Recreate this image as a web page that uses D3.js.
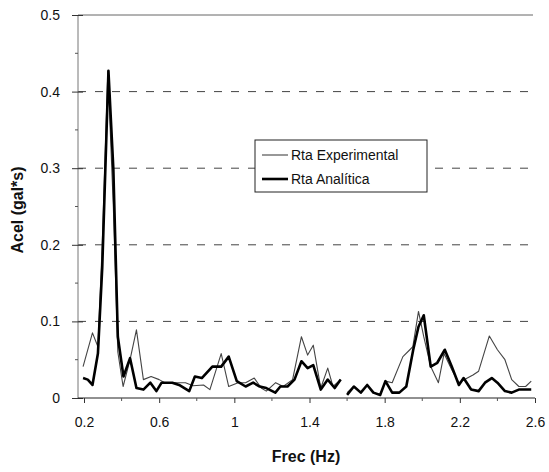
<!DOCTYPE html>
<html><head><meta charset="utf-8">
<script src="https://cdn.jsdelivr.net/npm/d3@7"></script>
<style>body{margin:0;background:#fff}svg text{font-family:Arial,"Liberation Sans",sans-serif}</style>
</head><body><svg id="c" width="549" height="472"></svg>
<script>
const xTicks = [0.2, 0.6, 1.0, 1.4, 1.8, 2.2, 2.6];
const xTickLabels = ["0.2", "0.6", "1", "1.4", "1.8", "2.2", "2.6"];
const yTicks = [0, 0.1, 0.2, 0.3, 0.4, 0.5];
const yTickLabels = ["0", "0.1", "0.2", "0.3", "0.4", "0.5"];
const seriesNames = ["Rta Experimental", "Rta Analítica"];

const freqExp = [0.195,0.245,0.274,0.297,0.327,0.356,0.38,0.408,0.445,0.479,0.516,0.557,0.6,0.63,0.67,0.706,0.74,0.78,0.836,0.87,0.93,0.97,1.02,1.06,1.106,1.143,1.17,1.22,1.26,1.31,1.357,1.39,1.42,1.46,1.497,1.525,1.566,1.58,1.6,1.636,1.673,1.707,1.74,1.776,1.804,1.84,1.897,1.934,1.95,1.98,2.008,2.045,2.086,2.116,2.157,2.195,2.24,2.27,2.3,2.357,2.4,2.44,2.476,2.514,2.55,2.58];
const accExp = [0.041,0.085,0.067,0.2,0.427,0.25,0.06,0.015,0.05,0.089,0.024,0.028,0.024,0.02,0.02,0.02,0.02,0.016,0.017,0.011,0.058,0.015,0.02,0.02,0.026,0.013,0.009,0.02,0.015,0.024,0.08,0.056,0.069,0.013,0.039,0.015,0.024,null,0.007,0.015,0.007,0.017,0.007,0.004,0.022,0.02,0.054,0.063,0.067,0.113,0.08,0.041,0.02,0.058,0.037,0.02,0.026,0.03,0.035,0.081,0.063,0.05,0.024,0.015,0.015,0.022];

const freqAna = [0.195,0.22,0.245,0.274,0.297,0.33,0.356,0.38,0.41,0.445,0.479,0.516,0.553,0.585,0.613,0.67,0.706,0.76,0.79,0.827,0.883,0.93,0.97,1.013,1.06,1.1,1.135,1.17,1.218,1.245,1.283,1.32,1.357,1.39,1.42,1.46,1.497,1.534,1.566,1.58,1.6,1.636,1.673,1.707,1.74,1.776,1.804,1.84,1.878,1.915,1.952,1.98,2.008,2.045,2.08,2.12,2.157,2.195,2.22,2.26,2.3,2.334,2.37,2.4,2.44,2.476,2.514,2.58];
const accAna = [0.026,0.024,0.017,0.058,0.17,0.427,0.3,0.08,0.028,0.052,0.013,0.011,0.02,0.009,0.02,0.02,0.017,0.009,0.028,0.026,0.041,0.041,0.054,0.022,0.015,0.02,0.015,0.013,0.007,0.015,0.015,0.024,0.048,0.039,0.043,0.011,0.024,0.013,0.024,null,0.004,0.015,0.007,0.017,0.007,0.004,0.022,0.007,0.007,0.015,0.063,0.093,0.108,0.041,0.046,0.063,0.041,0.017,0.026,0.011,0.009,0.02,0.026,0.02,0.009,0.007,0.011,0.011];

const svg = d3.select("#c");
const x = d3.scaleLinear().domain([0.168, 2.6]).range([78, 535]);
const y = d3.scaleLinear().domain([0, 0.5]).range([398, 15]);

// gridlines
svg.append("g").selectAll("line").data(yTicks.filter(d => d > 0 && d < 0.5)).join("line")
  .attr("x1", 78).attr("x2", 535).attr("y1", d => y(d)).attr("y2", d => y(d))
  .attr("stroke", "#444").attr("stroke-width", 1).attr("stroke-dasharray", "8,9");
svg.append("line").attr("x1", 78).attr("x2", 533).attr("y1", y(0.5)).attr("y2", y(0.5))
  .attr("stroke", "#666").attr("stroke-width", 1);

// y axis
const yAxis = d3.axisLeft(y).tickValues(yTicks).tickFormat((d, i) => yTickLabels[i]).tickSize(6).tickPadding(12);
const gy = svg.append("g").attr("transform", "translate(78,0)").call(yAxis);
gy.select(".domain").attr("stroke", "#777").attr("d", `M0,${y(0.5)}V${y(0)}`);
gy.selectAll(".tick line").attr("x1", -6).attr("x2", 5).attr("stroke", "#333");
gy.selectAll(".tick text").attr("font-size", 14).attr("fill", "#111");
svg.append("g").selectAll("line").data([0.05, 0.15, 0.25, 0.35, 0.45]).join("line")
  .attr("x1", 75).attr("x2", 78).attr("y1", d => y(d)).attr("y2", d => y(d)).attr("stroke", "#555");

// x axis
const xAxis = d3.axisBottom(x).tickValues(xTicks).tickFormat((d, i) => xTickLabels[i]).tickSize(5).tickPadding(14);
const gx = svg.append("g").attr("transform", `translate(0,${y(0)})`).call(xAxis);
gx.select(".domain").attr("stroke", "#222").attr("d", `M78,0H535`);
gx.selectAll(".tick line").attr("stroke", "#333");
gx.selectAll(".tick text").attr("font-size", 14).attr("fill", "#111");
svg.append("g").selectAll("line").data([0.4, 0.8, 1.2, 1.6, 2.0, 2.4]).join("line")
  .attr("x1", d => x(d)).attr("x2", d => x(d)).attr("y1", y(0)).attr("y2", y(0) + 3).attr("stroke", "#555");

// lines
const line = d3.line().defined(d => d[1] !== null).x(d => x(d[0])).y(d => y(d[1]));
svg.append("path").datum(freqExp.map((f, i) => [f, accExp[i]])).attr("d", line)
  .attr("fill", "none").attr("stroke", "#444").attr("stroke-width", 1.1).attr("stroke-linejoin", "round");
svg.append("path").datum(freqAna.map((f, i) => [f, accAna[i]])).attr("d", line)
  .attr("fill", "none").attr("stroke", "#000").attr("stroke-width", 2.6).attr("stroke-linejoin", "round");

// legend
const lg = svg.append("g");
lg.append("rect").attr("x", 255).attr("y", 140).attr("width", 172).attr("height", 52)
  .attr("fill", "#fff").attr("stroke", "#222").attr("stroke-width", 1);
lg.append("line").attr("x1", 262).attr("x2", 288).attr("y1", 155).attr("y2", 155).attr("stroke", "#444").attr("stroke-width", 1.1);
lg.append("line").attr("x1", 262).attr("x2", 288).attr("y1", 179).attr("y2", 179).attr("stroke", "#000").attr("stroke-width", 2.6);
lg.append("text").attr("x", 291).attr("y", 160).attr("font-size", 14).attr("fill", "#111").text(seriesNames[0]);
lg.append("text").attr("x", 291).attr("y", 184).attr("font-size", 14).attr("fill", "#111").text(seriesNames[1]);

// titles
svg.append("text").attr("transform", "translate(23,210) rotate(-90)").attr("text-anchor", "middle")
  .attr("font-size", 16).attr("font-weight", "bold").attr("fill", "#111").text("Acel (gal*s)");
svg.append("text").attr("x", 306).attr("y", 462).attr("text-anchor", "middle")
  .attr("font-size", 16).attr("font-weight", "bold").attr("fill", "#111").text("Frec (Hz)");
</script></body></html>
